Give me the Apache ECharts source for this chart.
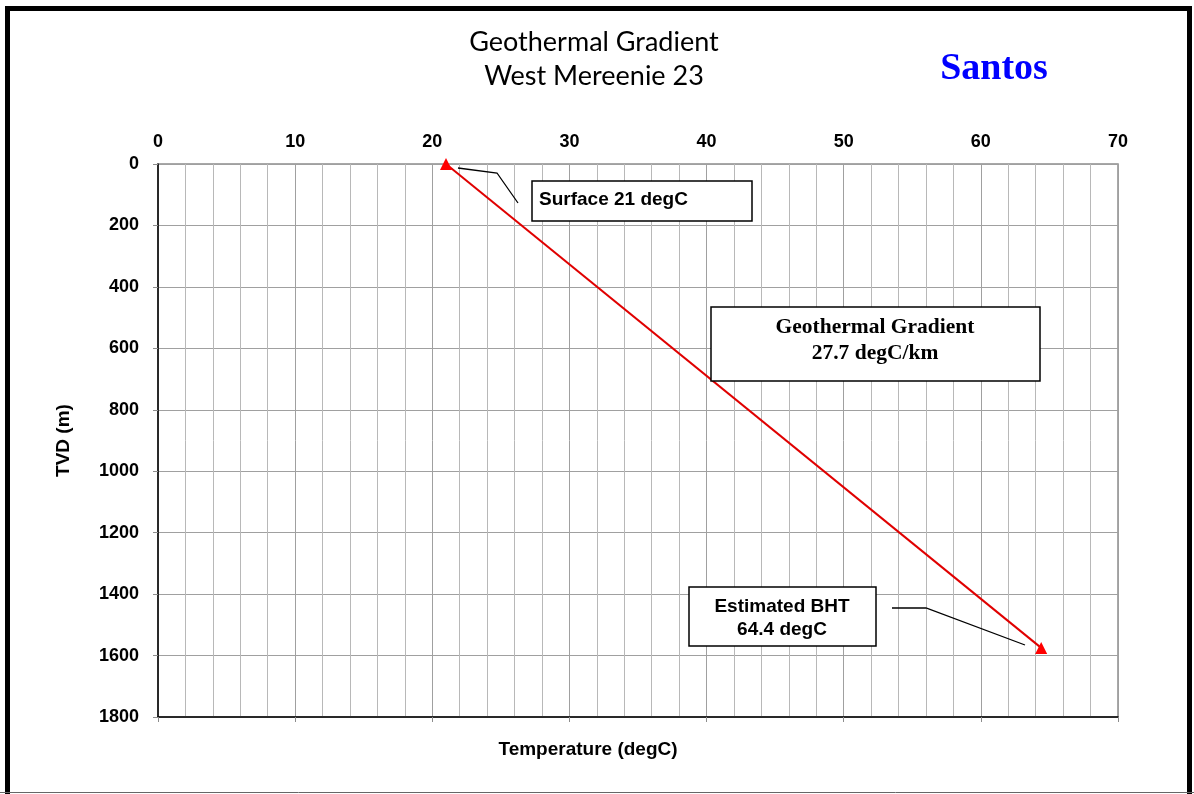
<!DOCTYPE html>
<html>
<head>
<meta charset="utf-8">
<script src="https://cdn.jsdelivr.net/npm/echarts@6/dist/echarts.min.js"></script>
<style>
  html, body { margin: 0; padding: 0; background: #fff; }
  #chart { width: 1194px; height: 794px; }
</style>
</head>
<body>
<div id="chart"></div>
<script>
// temperature (degC) vs true vertical depth (m)
const temps = [21, 64.4]
const depths = [0, 1575]
const xTicks = { min: 0, max: 70, interval: 10 }
const yTicks = { min: 0, max: 1800, interval: 200 }

const chart = echarts.init(document.getElementById('chart'))
const bold = { fontFamily: 'Liberation Sans, Arial', fontWeight: 'bold', color: '#000' }

chart.setOption({
  animation: false,
  backgroundColor: '#fff',
  title: [
    {
      text: 'Geothermal Gradient\nWest Mereenie 23',
      left: 589, top: 20, textAlign: 'center',
      textStyle: { fontFamily: 'Lato, Liberation Sans', fontWeight: 'normal', fontSize: 27, lineHeight: 34, color: '#000' }
    },
    {
      text: 'Santos',
      left: 989, top: 45, textAlign: 'center',
      textStyle: { fontFamily: 'Liberation Serif, Times New Roman', fontWeight: 'bold', fontSize: 38, color: '#0000ff' }
    }
  ],
  grid: {
    left: 158, right: 1194 - 1118, top: 164, bottom: 794 - 717,
    show: true, borderColor: '#8c8c8c', borderWidth: 1.5
  },
  xAxis: [
    {
      type: 'value', position: 'top',
      min: xTicks.min, max: xTicks.max, interval: xTicks.interval,
      axisLine: { show: false },
      axisTick: { show: false },
      axisLabel: { ...bold, fontSize: 18, margin: 13 },
      splitLine: { show: true, lineStyle: { color: '#a0a0a0', width: 1 } },
      minorTick: { show: false, splitNumber: 5 },
      minorSplitLine: { show: true, lineStyle: { color: '#b8b8b8', width: 1 } }
    },
    {
      type: 'value', position: 'bottom',
      min: xTicks.min, max: xTicks.max, interval: xTicks.interval,
      axisLine: { show: true, onZero: false, lineStyle: { color: '#000', width: 1.5 } },
      axisTick: { show: true, length: 5, lineStyle: { color: '#8c8c8c' } },
      axisLabel: { show: false },
      splitLine: { show: false }
    }
  ],
  yAxis: {
    type: 'value', inverse: true,
    min: yTicks.min, max: yTicks.max, interval: yTicks.interval,
    axisLine: { show: true, onZero: false, lineStyle: { color: '#000', width: 1.5 } },
    axisTick: { show: true, inside: false, length: 5, lineStyle: { color: '#8c8c8c' } },
    axisLabel: { ...bold, fontSize: 18, margin: 19, formatter: v => String(v) },
    splitLine: { show: true, lineStyle: { color: '#a0a0a0', width: 1 } },
    name: 'TVD (m)', nameLocation: 'middle', nameGap: 85, nameRotate: 90,
    nameTextStyle: { ...bold, fontSize: 19 }
  },
  series: [
    {
      type: 'line',
      data: temps.map((t, i) => [t, depths[i]]),
      symbol: 'triangle', symbolSize: 12,
      itemStyle: { color: '#ff0000' },
      lineStyle: { color: '#e00000', width: 2 },
      z: 5
    }
  ],
  graphic: [
    // page frame
    { type: 'rect', shape: { x: 7.5, y: 8.5, width: 1182, height: 800 }, style: { fill: 'none', stroke: '#000', lineWidth: 5 }, z: 100 },
    { type: 'line', shape: { x1: 0, y1: 792.5, x2: 1194, y2: 792.5 }, style: { stroke: '#666', lineWidth: 1 }, z: 100 },
    // x axis title (sits left of the plot centre in the original)
    { type: 'text', x: 588, y: 750, style: { text: 'Temperature (degC)', font: 'bold 19px Liberation Sans, Arial', fill: '#000', textAlign: 'center', textVerticalAlign: 'middle' }, z: 50 },
    // surface callout
    { type: 'polyline', shape: { points: [[458, 168], [497, 173], [518, 203]] }, style: { stroke: '#000', lineWidth: 1.3, fill: 'none' }, z: 20 },
    { type: 'rect', shape: { x: 532, y: 181, width: 220, height: 40 }, style: { fill: '#fff', stroke: '#000', lineWidth: 1.5 }, z: 20 },
    { type: 'text', x: 539, y: 200, style: { text: 'Surface 21 degC', font: 'bold 19px Liberation Sans, Arial', fill: '#000', textVerticalAlign: 'middle' }, z: 21 },
    // gradient callout
    { type: 'rect', shape: { x: 711, y: 307, width: 329, height: 74 }, style: { fill: '#fff', stroke: '#000', lineWidth: 1.5 }, z: 20 },
    { type: 'text', x: 875, y: 340, style: { text: 'Geothermal Gradient\n27.7 degC/km', font: 'bold 21.5px Liberation Serif, Times New Roman', lineHeight: 26, fill: '#000', textAlign: 'center', textVerticalAlign: 'middle' }, z: 21 },
    // BHT callout
    { type: 'polyline', shape: { points: [[892, 608], [926, 608], [1025, 645]] }, style: { stroke: '#000', lineWidth: 1.3, fill: 'none' }, z: 20 },
    { type: 'rect', shape: { x: 689, y: 587, width: 187, height: 59 }, style: { fill: '#fff', stroke: '#000', lineWidth: 1.5 }, z: 20 },
    { type: 'text', x: 782, y: 618, style: { text: 'Estimated BHT\n64.4 degC', font: 'bold 19px Liberation Sans, Arial', lineHeight: 23, fill: '#000', textAlign: 'center', textVerticalAlign: 'middle' }, z: 21 }
  ]
})
</script>
</body>
</html>
